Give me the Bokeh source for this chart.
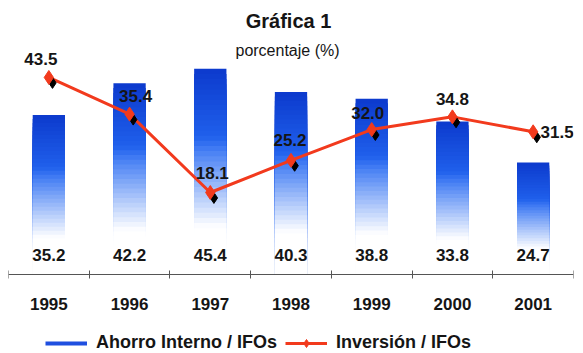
from bokeh.plotting import figure
from bokeh.models import Range1d, FixedTicker, Legend, LegendItem, Label, ColumnDataSource
from bokeh.core.properties import value
from bokeh.transform import dodge
from bokeh.embed import file_html
from bokeh.resources import INLINE

# ---------------- data ----------------
years = ["1995", "1996", "1997", "1998", "1999", "2000", "2001"]
ahorro = [35.2, 42.2, 45.4, 40.3, 38.8, 33.8, 24.7]
inversion = [43.5, 35.4, 18.1, 25.2, 32.0, 34.8, 31.5]
series_names = ["Ahorro Interno / IFOs", "Inversión / IFOs"]
title_text = "Gráfica 1"
subtitle_text = "porcentaje (%)"

# ---------------- style ----------------
FONT = "Liberation Sans"
TXT = "#151515"
RED = "#f23a1d"
BLUE_LEG = "#1f4fe0"
PX_PER_UNIT = 4.53
inv_label_dx = [-8, 6, 2, -1, -4, 0, 24]
inv_label_dy = [-18, -18, -20, -20, -17, -18, 0]

idx = list(range(len(years)))
bounds = [i - 0.5 for i in range(len(years) + 1)]

p = figure(width=583, height=353, output_backend="svg", toolbar_location=None,
           x_range=Range1d(-0.5, len(years) - 0.5),
           y_range=Range1d(-79 / PX_PER_UNIT, 274 / PX_PER_UNIT),
           min_border_left=8, min_border_right=10, min_border_top=0, min_border_bottom=0)
p.outline_line_color = None
p.grid.visible = False
p.yaxis.visible = False
p.background_fill_color = "white"
p.border_fill_color = "white"

# ---------- gradient bars (stacked opaque slices, tallest first) ----------
N = 40
dark = (12, 58, 205)
mid = (36, 104, 242)


def grad(t):
    if t < 0.4:
        k = t / 0.4
        c = [dark[n] + (mid[n] - dark[n]) * k for n in range(3)]
    else:
        c = list(mid)
    w = min(1.0, max(0.0, (t - 0.33) / 0.44))
    c = [int(round(c[n] * (1 - w) + 255 * w)) for n in range(3)]
    return "#%02x%02x%02x" % tuple(c)


bx, btop, bcol = [], [], []
for j in reversed(range(N)):
    frac_top = (j + 1) / N
    t = 1 - frac_top + 0.5 / N
    col = grad(t)
    for i, v in enumerate(ahorro):
        bx.append(idx[i])
        btop.append(v * frac_top)
        bcol.append(col)
p.vbar(x=bx, top=btop, bottom=0, width=0.4, fill_color=bcol, line_color=None)

# bar value labels (just above the axis)
bar_src = ColumnDataSource(dict(x=idx, y=[0] * len(idx), t=["%.1f" % v for v in ahorro]))
p.text(x="x", y="y", text="t", source=bar_src, text_align="center", text_baseline="middle",
       y_offset=-20, text_font=value(FONT), text_font_style="bold", text_font_size="17px",
       text_color=TXT)

# ---------- line series ----------
inv_src = ColumnDataSource(dict(x=idx, y=inversion, t=["%.1f" % v for v in inversion],
                                dx=inv_label_dx, dy=inv_label_dy))
line_r = p.line(x="x", y="y", source=inv_src, line_color=RED, line_width=3)
p.scatter(x=dodge("x", 0.045, range=p.x_range), y=dodge("y", -1.2), source=inv_src,
          marker="diamond", size=11, fill_color="black", line_color="black")
mark_r = p.scatter(x="x", y="y", source=inv_src, marker="diamond", size=14,
                   fill_color=RED, line_color=RED)
p.text(x="x", y="y", text="t", source=inv_src, x_offset="dx", y_offset="dy",
       text_align="center", text_baseline="middle", text_font=value(FONT),
       text_font_style="bold", text_font_size="17px", text_color=TXT)

# ---------- axis (fixed at y = 0 inside the frame) ----------
ax = p.xaxis[0]
ax.fixed_location = 0
ax.ticker = FixedTicker(ticks=idx, minor_ticks=bounds)
ax.major_label_overrides = {i: y for i, y in zip(idx, years)}
ax.major_tick_line_color = None
ax.major_tick_in = 0
ax.major_tick_out = 0
ax.minor_tick_in = 4
ax.minor_tick_out = 4
ax.minor_tick_line_color = "#555555"
ax.axis_line_color = "#555555"
ax.major_label_standoff = 19
ax.major_label_text_font = FONT
ax.major_label_text_font_style = "bold"
ax.major_label_text_font_size = "17px"
ax.major_label_text_color = TXT

# ---------- titles ----------
p.add_layout(Label(x=280, y=333, x_units="screen", y_units="screen", text=title_text,
                   text_align="center", text_baseline="middle", text_font=FONT,
                   text_font_style="bold", text_font_size="20px", text_color=TXT))
p.add_layout(Label(x=279, y=303, x_units="screen", y_units="screen", text=subtitle_text,
                   text_align="center", text_baseline="middle", text_font=FONT,
                   text_font_size="16px", text_color=TXT))

# ---------- legend ----------
# legend-only proxy for the bar series (drawn as a line swatch, like the original)
blue_proxy = p.line(x=[float("nan")], y=[float("nan")], line_color=BLUE_LEG, line_width=4)
legend = Legend(items=[LegendItem(label=series_names[0], renderers=[blue_proxy]),
                       LegendItem(label=series_names[1], renderers=[line_r, mark_r])],
                location=(37, 0), orientation="horizontal", padding=0, margin=0,
                spacing=8, glyph_width=42, glyph_height=20, label_height=20,
                label_standoff=9, border_line_color=None, background_fill_alpha=0,
                label_text_font=FONT, label_text_font_style="bold",
                label_text_font_size="18px", label_text_color=TXT)
p.add_layout(legend)

open("out.html", "w").write(file_html(p, INLINE))
